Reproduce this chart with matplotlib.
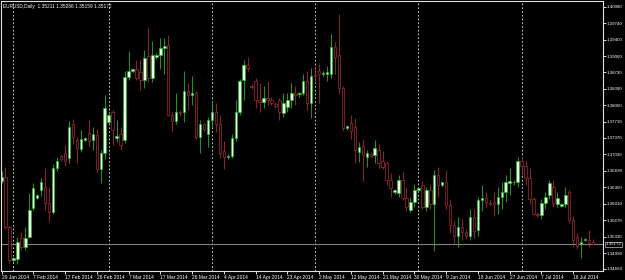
import matplotlib
matplotlib.use('Agg')
import matplotlib.pyplot as plt
import numpy as np

plt.rcParams['font.family'] = ['Liberation Sans', 'DejaVu Sans']

# daily bars EURUSD, 29 Jan 2014 .. 22 Jul 2014 (sunday bars included)
open_ = [1.3649, 1.3656, 1.3553, 1.3484, 1.3486, 1.3530, 1.3512, 1.3532, 1.3592, 1.3613,
         1.3629, 1.3636, 1.3603, 1.3584, 1.3675, 1.3700, 1.3705, 1.3695, 1.3765, 1.3733,
         1.3715, 1.3733, 1.3747, 1.3733, 1.3743, 1.3673, 1.3705, 1.3771, 1.3790, 1.3737,
         1.3745, 1.3733, 1.3864, 1.3876, 1.3880, 1.3874, 1.3857, 1.3907, 1.3861, 1.3905,
         1.3909, 1.3923, 1.3930, 1.3785, 1.3772, 1.3790, 1.3790, 1.3835, 1.3825, 1.3830,
         1.3740, 1.3765, 1.3745, 1.3774, 1.3790, 1.3766, 1.3710, 1.3697, 1.3700, 1.3738,
         1.3790, 1.3857, 1.3888, 1.3845, 1.3855, 1.3815, 1.3812, 1.3820, 1.3815, 1.3808,
         1.3815, 1.3789, 1.3801, 1.3815, 1.3830, 1.3828, 1.3830, 1.3855, 1.3810, 1.3868,
         1.3875, 1.3870, 1.3870, 1.3869, 1.3925, 1.3908, 1.3840, 1.3758, 1.3768, 1.3760,
         1.3708, 1.3720, 1.3697, 1.3703, 1.3702, 1.3712, 1.3690, 1.3685, 1.3650, 1.3625,
         1.3623, 1.3650, 1.3612, 1.3588, 1.3605, 1.3630, 1.3640, 1.3595, 1.3630, 1.3600,
         1.3660, 1.3640, 1.3645, 1.3598, 1.3556, 1.3535, 1.3552, 1.3542, 1.3535, 1.3573,
         1.3546, 1.3608, 1.3612, 1.3603, 1.3605, 1.3600, 1.3615, 1.3625, 1.3643, 1.3645,
         1.3645, 1.3690, 1.3680, 1.3655, 1.3610, 1.3580, 1.3578, 1.3603, 1.3619, 1.3635,
         1.3601, 1.3597, 1.3600, 1.3625, 1.3567, 1.3532, 1.3517, 1.3525, 1.3527, 1.35211]
high = [1.3668, 1.3677, 1.3558, 1.3490, 1.3532, 1.3542, 1.3553, 1.3623, 1.3643, 1.3622,
        1.3654, 1.3675, 1.3636, 1.3684, 1.3697, 1.3702, 1.3722, 1.3772, 1.3776, 1.3740,
        1.3753, 1.3739, 1.3774, 1.3760, 1.3755, 1.3712, 1.3825, 1.3790, 1.3795, 1.3774,
        1.3760, 1.3876, 1.3916, 1.3882, 1.3898, 1.3898, 1.3919, 1.3967, 1.3937, 1.3913,
        1.3944, 1.3944, 1.3950, 1.3790, 1.3830, 1.3795, 1.3875, 1.3850, 1.3865, 1.3835,
        1.3775, 1.3768, 1.3780, 1.3815, 1.3810, 1.3785, 1.3730, 1.3703, 1.3745, 1.3815,
        1.3860, 1.3898, 1.3905, 1.3848, 1.3862, 1.3850, 1.3845, 1.3855, 1.3822, 1.3812,
        1.3820, 1.3830, 1.3830, 1.3850, 1.3845, 1.3832, 1.3870, 1.3875, 1.3882, 1.3885,
        1.3890, 1.3876, 1.3885, 1.3952, 1.3935, 1.3993, 1.3845, 1.3764, 1.3785, 1.3778,
        1.3729, 1.3735, 1.3712, 1.3707, 1.3733, 1.3725, 1.3710, 1.3690, 1.3665, 1.3632,
        1.3660, 1.3668, 1.3635, 1.3615, 1.3642, 1.3636, 1.3648, 1.3635, 1.3640, 1.3670,
        1.3677, 1.3647, 1.3670, 1.3610, 1.3565, 1.3573, 1.3570, 1.3548, 1.3590, 1.3590,
        1.3615, 1.3640, 1.3625, 1.3608, 1.3625, 1.3635, 1.3645, 1.3660, 1.3675, 1.3650,
        1.3698, 1.3700, 1.3690, 1.3675, 1.3615, 1.3584, 1.3610, 1.3625, 1.3650, 1.3650,
        1.3625, 1.3602, 1.3635, 1.3629, 1.3575, 1.3540, 1.3532, 1.3530, 1.3546, 1.35286]
low = [1.3644, 1.3549, 1.3479, 1.3481, 1.3477, 1.3505, 1.3505, 1.3530, 1.3588, 1.3610,
       1.3617, 1.3588, 1.3563, 1.3580, 1.3668, 1.3689, 1.3680, 1.3686, 1.3725, 1.3686,
       1.3708, 1.3730, 1.3719, 1.3712, 1.3667, 1.3643, 1.3694, 1.3769, 1.3722, 1.3728,
       1.3712, 1.3726, 1.3856, 1.3874, 1.3856, 1.3836, 1.3840, 1.3853, 1.3853, 1.3901,
       1.3880, 1.3869, 1.3782, 1.3750, 1.3765, 1.3783, 1.3770, 1.3795, 1.3805, 1.3735,
       1.3705, 1.3752, 1.3718, 1.3760, 1.3750, 1.3695, 1.3672, 1.3694, 1.3695, 1.3731,
       1.3785, 1.3815, 1.3876, 1.3838, 1.3800, 1.3790, 1.3800, 1.3805, 1.3805, 1.3800,
       1.3775, 1.3780, 1.3790, 1.3800, 1.3805, 1.3822, 1.3825, 1.3795, 1.3778, 1.3850,
       1.3810, 1.3865, 1.3855, 1.3862, 1.3870, 1.3830, 1.3752, 1.3754, 1.3735, 1.3685,
       1.3687, 1.3648, 1.3677, 1.3698, 1.3685, 1.3675, 1.3672, 1.3640, 1.3615, 1.3622,
       1.3615, 1.3608, 1.3585, 1.3583, 1.3595, 1.3626, 1.3590, 1.3585, 1.3590, 1.3503,
       1.3615, 1.3636, 1.3590, 1.3540, 1.3518, 1.3512, 1.3525, 1.3528, 1.3525, 1.3530,
       1.3535, 1.3585, 1.3595, 1.3598, 1.3575, 1.3580, 1.3590, 1.3605, 1.3620, 1.3640,
       1.3635, 1.3660, 1.3640, 1.3600, 1.3578, 1.3574, 1.3570, 1.3590, 1.3610, 1.3595,
       1.3595, 1.3595, 1.3595, 1.3561, 1.3511, 1.3508, 1.3488, 1.3523, 1.3511, 1.35159]
close = [1.3656, 1.3553, 1.3484, 1.3488, 1.3522, 1.3511, 1.3530, 1.3588, 1.3633, 1.3619,
         1.3646, 1.3603, 1.3584, 1.3675, 1.3690, 1.3694, 1.3690, 1.3760, 1.3740, 1.3717,
         1.3735, 1.3737, 1.3730, 1.3746, 1.3673, 1.3705, 1.3800, 1.3785, 1.3753, 1.3741,
         1.3722, 1.3864, 1.3876, 1.3880, 1.3861, 1.3857, 1.3903, 1.3861, 1.3909, 1.3909,
         1.3923, 1.3928, 1.3785, 1.3772, 1.3790, 1.3788, 1.3835, 1.3825, 1.3830, 1.3740,
         1.3765, 1.3755, 1.3774, 1.3790, 1.3766, 1.3705, 1.3698, 1.3700, 1.3738, 1.3790,
         1.3855, 1.3888, 1.3882, 1.3843, 1.3815, 1.3812, 1.3820, 1.3815, 1.3810, 1.3803,
         1.3790, 1.3810, 1.3815, 1.3830, 1.3825, 1.3830, 1.3855, 1.3810, 1.3866, 1.3866,
         1.3870, 1.3872, 1.3874, 1.3925, 1.3905, 1.3840, 1.3758, 1.3762, 1.3752, 1.3712,
         1.3718, 1.3702, 1.3707, 1.3700, 1.3716, 1.3685, 1.3677, 1.3650, 1.3633, 1.3629,
         1.3650, 1.3612, 1.3595, 1.3605, 1.3630, 1.3633, 1.3595, 1.3630, 1.3600, 1.3660,
         1.3640, 1.3645, 1.3598, 1.3556, 1.3535, 1.3552, 1.3542, 1.3535, 1.3573, 1.3545,
         1.3608, 1.3612, 1.3605, 1.3601, 1.3600, 1.3615, 1.3625, 1.3645, 1.3648, 1.3647,
         1.3690, 1.3680, 1.3655, 1.3610, 1.3580, 1.3578, 1.3603, 1.3614, 1.3644, 1.3602,
         1.3612, 1.3600, 1.3619, 1.3567, 1.3526, 1.3513, 1.3521, 1.3528, 1.3519, 1.35172]

date_ticks = [0, 8, 16, 24, 32, 40, 48, 56, 64, 72, 80, 88, 96, 104, 112, 120, 128, 136, 144]
date_labels = ['29 Jan 2014', '7 Feb 2014', '17 Feb 2014', '26 Feb 2014', '7 Mar 2014',
               '17 Mar 2014', '26 Mar 2014', '4 Apr 2014', '14 Apr 2014', '23 Apr 2014',
               '2 May 2014', '12 May 2014', '21 May 2014', '30 May 2014', '9 Jun 2014',
               '18 Jun 2014', '27 Jun 2014', '7 Jul 2014', '16 Jul 2014']
month_starts = [3, 27, 53, 79, 105, 131]
price_ticks = [1.40080, 1.39740, 1.39400, 1.39060, 1.38730, 1.38390, 1.38050, 1.37710,
               1.37370, 1.37030, 1.36690, 1.36350, 1.36010, 1.35670, 1.35330, 1.34990, 1.34660]
bid = 1.35172

bull_edge = '#22b422'
bull_fill = '#e6ffe6'
bear_col = '#a8283a'

fig = plt.figure(figsize=(6.25, 2.8), dpi=100, facecolor='black')
ax = fig.add_axes([1 / 625, 9 / 280, 602 / 625, 270 / 280])
ax.set_facecolor('black')

o = np.array(open_)
h = np.array(high)
l = np.array(low)
c = np.array(close)
x = np.arange(len(c))
up = c >= o

# period separators and bid line
for m in month_starts:
    ax.axvline(m, color='#e8e8e8', lw=0.6, ls=(0, (2, 2.5)), zorder=0)
ax.axhline(bid, color='#808080', lw=0.8, zorder=0)

ax.vlines(x[up], l[up], h[up], color=bull_edge, lw=0.6, zorder=1)
ax.vlines(x[~up], l[~up], h[~up], color=bear_col, lw=0.6, zorder=1)
ax.bar(x[up], c[up] - o[up], bottom=o[up], width=0.62, color=bull_fill,
       edgecolor=bull_edge, linewidth=0.5, zorder=2)
ax.bar(x[~up], c[~up] - o[~up], bottom=o[~up], width=0.62, color='black',
       edgecolor=bear_col, linewidth=0.5, zorder=2)

ax.set_xlim(-0.126, 151.5)
ax.set_ylim(1.346186, 1.402041)

for s in ax.spines.values():
    s.set_color('#e0e0e0')
    s.set_linewidth(0.8)

ax.yaxis.tick_right()
ax.set_yticks(price_ticks)
ax.set_yticklabels(['%.5f' % p for p in price_ticks])
ax.tick_params(axis='y', colors='white', length=2.2, width=0.6, pad=0.7, labelsize=3.2)

ax.set_xticks(date_ticks)
ax.set_xticklabels(date_labels, ha='left')
ax.tick_params(axis='x', colors='white', length=2, width=0.6, pad=0.8, labelsize=3.5)

ax.text(0.004, 0.978, 'EURUSD,Daily  1.35211 1.35286 1.35159 1.35172',
        transform=ax.transAxes, color='white', fontsize=3.4, va='center', ha='left')

ax.text(1.0045, bid, '%.5f' % bid, transform=ax.get_yaxis_transform(), color='white',
        fontsize=3.2, va='center', ha='left', clip_on=False,
        bbox=dict(boxstyle='square,pad=0.15', facecolor='black', edgecolor='#c0c0c0', linewidth=0.5))

fig.savefig('out.png', dpi=100, facecolor='black')
